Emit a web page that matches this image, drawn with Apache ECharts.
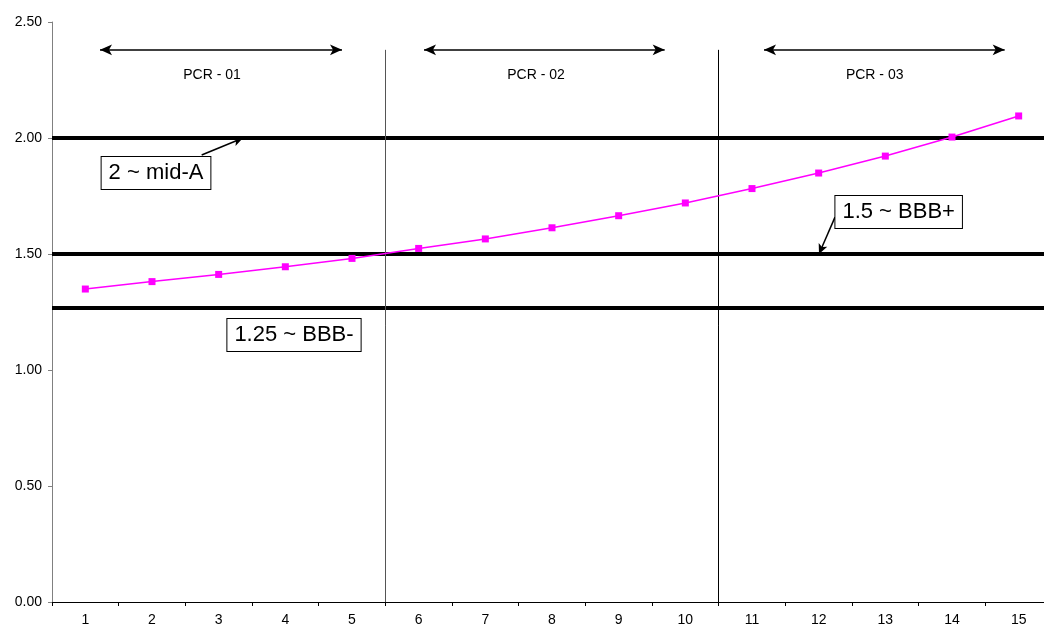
<!DOCTYPE html>
<html>
<head>
<meta charset="utf-8">
<script src="https://cdn.jsdelivr.net/npm/echarts@6/dist/echarts.min.js"></script>
<style>html,body{margin:0;padding:0;background:#fff;overflow:hidden;width:1044px;height:627px;}#c{width:1052px;height:627px;}</style>
</head>
<body>
<div id="c"></div>
<script>
// ---- data ----
const categories = ['1','2','3','4','5','6','7','8','9','10','11','12','13','14','15'];
const ratioValues = [1.349,1.381,1.412,1.445,1.481,1.524,1.565,1.613,1.665,1.720,1.782,1.849,1.922,2.004,2.095];
const thresholdValues = [2.0, 1.5, 1.27];
const thresholdLabels = ['2 ~ mid-A', '1.5 ~ BBB+', '1.25 ~ BBB-'];
const periodLabels = ['PCR - 01', 'PCR - 02', 'PCR - 03'];
const periodDividers = [5.5, 10.5];          // between categories 5|6 and 10|11
const periodArrowStart = [1.22, 6.08, 11.18];
const periodArrowEnd = [4.85, 9.69, 14.79];
const periodLabelX = [2.9, 7.76, 12.84];
const yTickLabels = ['0.00','0.50','1.00','1.50','2.00','2.50'];

// annotation placement (in data coordinates)
const arrowTopY = 2.38;
const periodLabelY = 2.27;
const boxPos = [[2.06, 1.849], [13.2, 1.681], [4.13, 1.151]];
const boxArrowFrom = [[2.745, 1.927], [12.245, 1.659], null];
const boxArrowTo = [[3.365, 2.0], [12.005, 1.5], null];

const FONT = 'Arial, "Liberation Sans", sans-serif';
const chart = echarts.init(document.getElementById('c'), null, {renderer: 'canvas'});

const hLines = thresholdValues.map(v => ({yAxis: v}));
const vLines = periodDividers.map((x, i) => ([
  {coord: [x, arrowTopY], lineStyle: {color: i === 0 ? '#555' : '#000', width: 1, type: 'solid'}},
  {coord: [x, 0]}
]));
const pArrows = periodArrowStart.map((s, i) => ([
  {coord: [s, arrowTopY]}, {coord: [periodArrowEnd[i], arrowTopY]}
]));
const boxArrows = [];
boxArrowFrom.forEach((f, i) => { if (f) boxArrows.push([{coord: f}, {coord: boxArrowTo[i]}]); });

const periodPts = periodLabels.map((t, i) => ({
  coord: [periodLabelX[i], periodLabelY], value: t,
  label: {formatter: t, fontSize: 14, fontFamily: FONT, color: '#000'}
}));
const boxPts = thresholdLabels.map((t, i) => ({
  coord: boxPos[i], value: t,
  label: {
    formatter: t, fontSize: 22, fontFamily: FONT, color: '#000',
    backgroundColor: '#fff', borderColor: '#000', borderWidth: 1,
    padding: [4, 7, 4, 7], lineHeight: 24
  }
}));

chart.setOption({
  animation: false,
  backgroundColor: '#fff',
  grid: {left: 52, top: 22, right: 0, bottom: 25, containLabel: false},
  xAxis: [{
    type: 'category', data: categories, boundaryGap: true,
    axisLine: {show: true, lineStyle: {color: '#000', width: 1}},
    axisTick: {show: true, alignWithLabel: false, length: 4, lineStyle: {color: '#000'}},
    axisLabel: {fontSize: 14, fontFamily: FONT, color: '#000', margin: 11},
    splitLine: {show: false}
  }, {
    type: 'value', min: 0.5, max: 15.5, show: false, position: 'bottom'
  }],
  yAxis: {
    type: 'value', min: 0, max: 2.5, interval: 0.5,
    axisLine: {show: true, lineStyle: {color: '#808080', width: 1}},
    axisTick: {show: true, length: 4, lineStyle: {color: '#808080'}},
    axisLabel: {fontSize: 14, fontFamily: FONT, color: '#000', margin: 10,
      formatter: (v) => yTickLabels[Math.round(v / 0.5)]},
    splitLine: {show: false}
  },
  series: [
    {
      name: 'thresholds', type: 'line', xAxisIndex: 1, data: [], z: 1, silent: true,
      markLine: {
        silent: true, symbol: ['none', 'none'], animation: false,
        label: {show: false},
        lineStyle: {color: '#000', width: 4, type: 'solid'},
        data: hLines
      }
    },
    {
      name: 'dividers', type: 'line', xAxisIndex: 1, data: [], z: 1, silent: true,
      markLine: {
        silent: true, symbol: ['none', 'none'], animation: false,
        label: {show: false},
        lineStyle: {color: '#000', width: 1, type: 'solid'},
        data: vLines
      }
    },
    {
      name: 'periodArrows', type: 'line', xAxisIndex: 1, data: [], z: 3, silent: true,
      markLine: {
        silent: true, symbol: ['arrow', 'arrow'], symbolSize: [8, 12], animation: false,
        label: {show: false},
        lineStyle: {color: '#000', width: 1.5, type: 'solid'},
        data: pArrows
      },
      markPoint: {
        silent: true, symbol: 'rect', symbolSize: 0, animation: false,
        label: {show: true, position: 'inside'},
        data: periodPts
      }
    },
    {
      name: 'ratio', type: 'line', xAxisIndex: 1, z: 5,
      data: ratioValues.map((v, i) => [i + 1, v]),
      symbol: 'rect', symbolSize: 7, showSymbol: true,
      lineStyle: {color: '#FF00FF', width: 1.5},
      itemStyle: {color: '#FF00FF'}
    },
    {
      name: 'boxes', type: 'line', xAxisIndex: 1, data: [], z: 6, silent: true,
      markLine: {
        silent: true, symbol: ['none', 'arrow'], symbolSize: [7, 10], animation: false,
        label: {show: false},
        lineStyle: {color: '#000', width: 1.5, type: 'solid'},
        data: boxArrows
      },
      markPoint: {
        silent: true, symbol: 'rect', symbolSize: 0, animation: false,
        label: {show: true, position: 'inside'},
        data: boxPts
      }
    }
  ]
});
</script>
</body>
</html>
